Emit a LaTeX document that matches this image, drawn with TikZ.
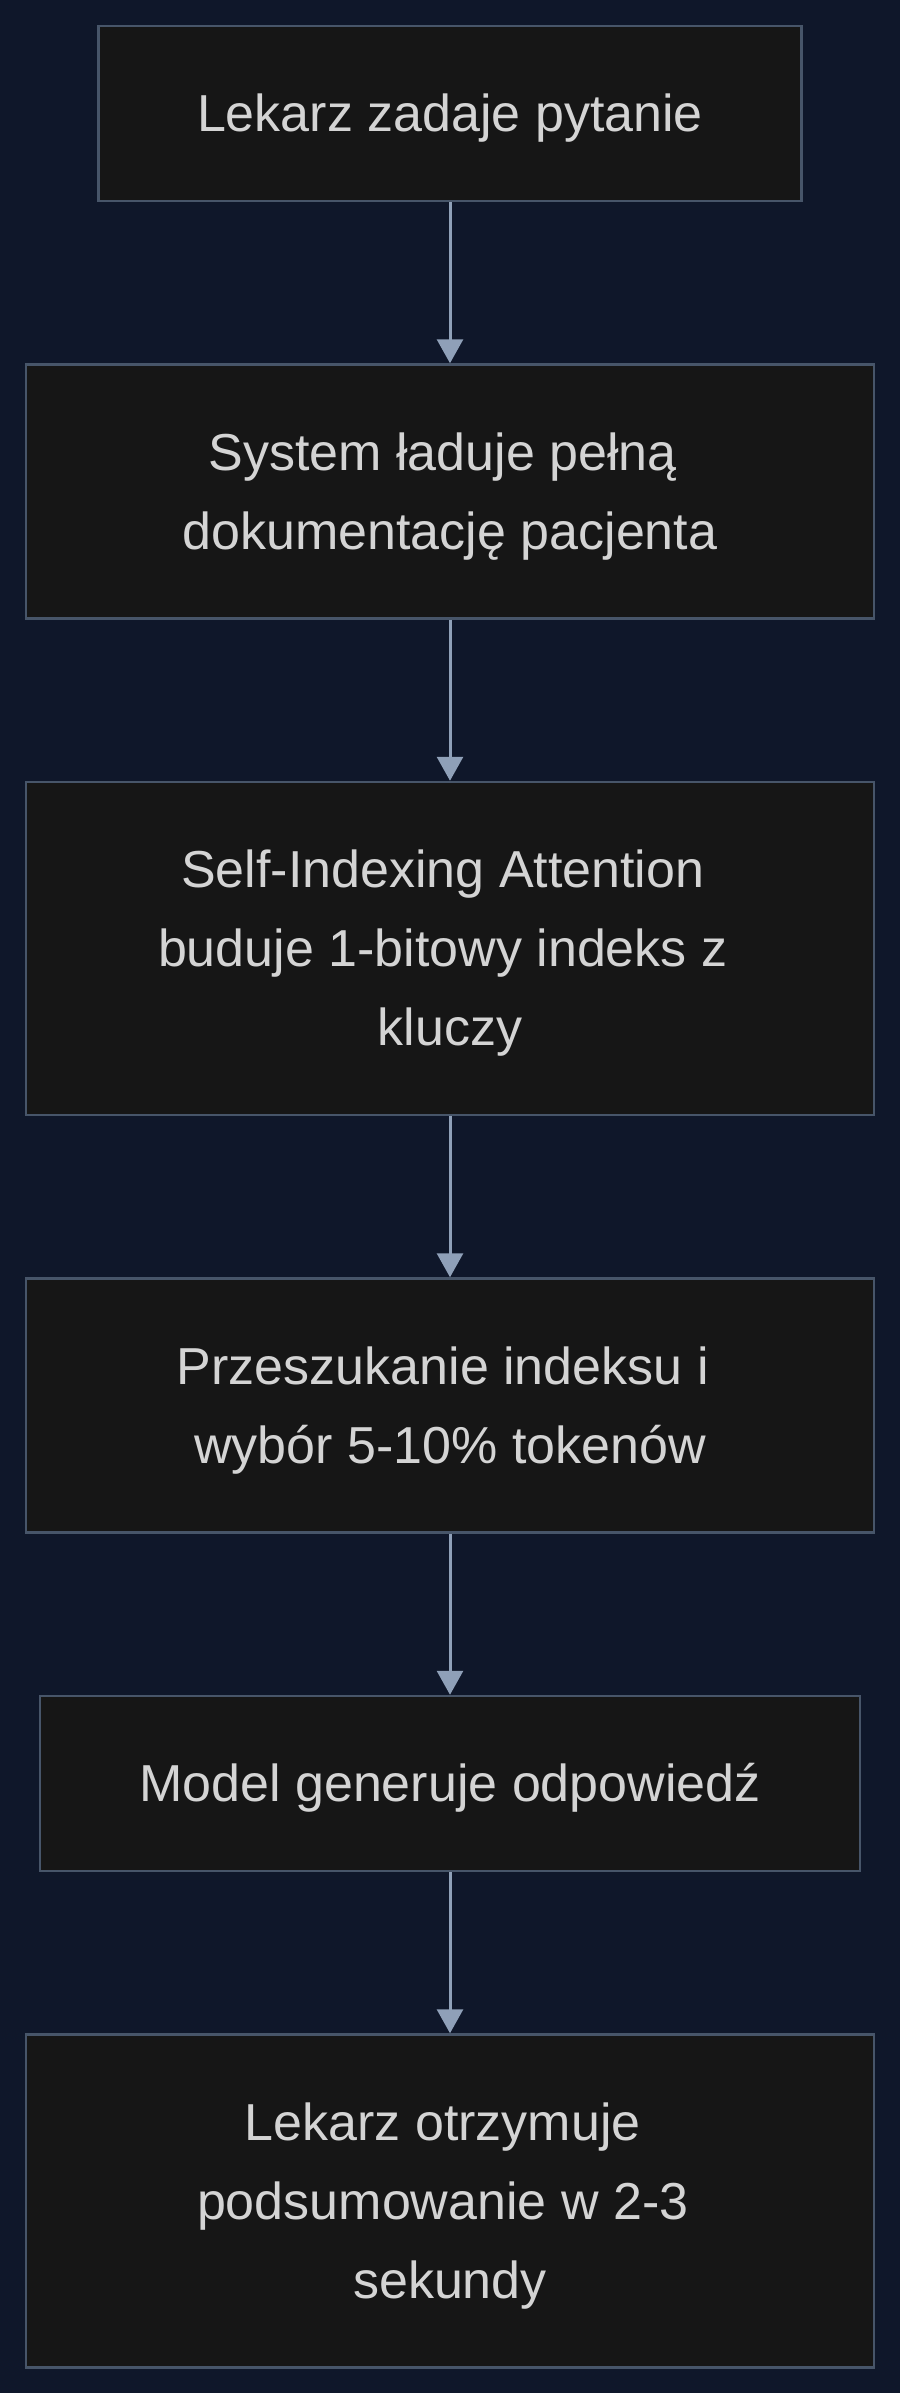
\documentclass[tikz,border=0pt]{standalone}
\usepackage{fontspec}
\setmainfont{Liberation Sans}
\usetikzlibrary{positioning, arrows.meta}

\definecolor{bgnavy}{RGB}{15,23,42}
\definecolor{boxfill}{RGB}{22,22,22}
\definecolor{boxline}{RGB}{71,85,105}
\definecolor{arrowcol}{RGB}{143,160,184}
\definecolor{textcol}{RGB}{212,212,212}

\newcommand{\linestrut}{\rule[-0.3em]{0pt}{1.3em}}
\newcommand{\wrapgap}{\kern0.278em}

\tikzset{
  stage/.style={draw=boxline, fill=boxfill, line width=2.5bp, align=center,
    text=textcol, font=\fontsize{52bp}{79bp}\selectfont, inner sep=0pt,
    execute at begin node={\linestrut},
    execute at end node={\linestrut}},
  flow/.style={draw=arrowcol, line width=3bp, -{Triangle[width=26bp,length=24bp]}}
}

\begin{document}
\begin{tikzpicture}[node distance=161bp]

\useasboundingbox (0bp,0bp) rectangle (900bp,-2393bp);
\fill[bgnavy] (-5bp,5bp) rectangle (905bp,-2398bp);

\node[stage, minimum width=703bp, minimum height=175bp] (1) at (450bp,-113.5bp) {Lekarz zadaje pytanie};
\node[stage, minimum width=848bp, minimum height=254bp, below=of 1] (2) {\linestrut System ładuje pełną\wrapgap\\dokumentację pacjenta};
\node[stage, minimum width=848bp, minimum height=333bp, below=of 2] (3) {\linestrut Self-Indexing Attention\wrapgap\\buduje 1-bitowy indeks z\wrapgap\\kluczy};
\node[stage, minimum width=848bp, minimum height=254bp, below=of 3] (4) {\linestrut Przeszukanie indeksu i\wrapgap\\wybór 5-10\% tokenów};
\node[stage, minimum width=820bp, minimum height=175bp, below=of 4] (5) {Model generuje odpowiedź};
\node[stage, minimum width=848bp, minimum height=333bp, below=of 5] (6) {\linestrut Lekarz otrzymuje\wrapgap\\podsumowanie w 2-3\wrapgap\\sekundy};

\draw
(1) edge[flow] (2)
(2) edge[flow] (3)
(3) edge[flow] (4)
(4) edge[flow] (5)
(5) edge[flow] (6);

\end{tikzpicture}
\end{document}
